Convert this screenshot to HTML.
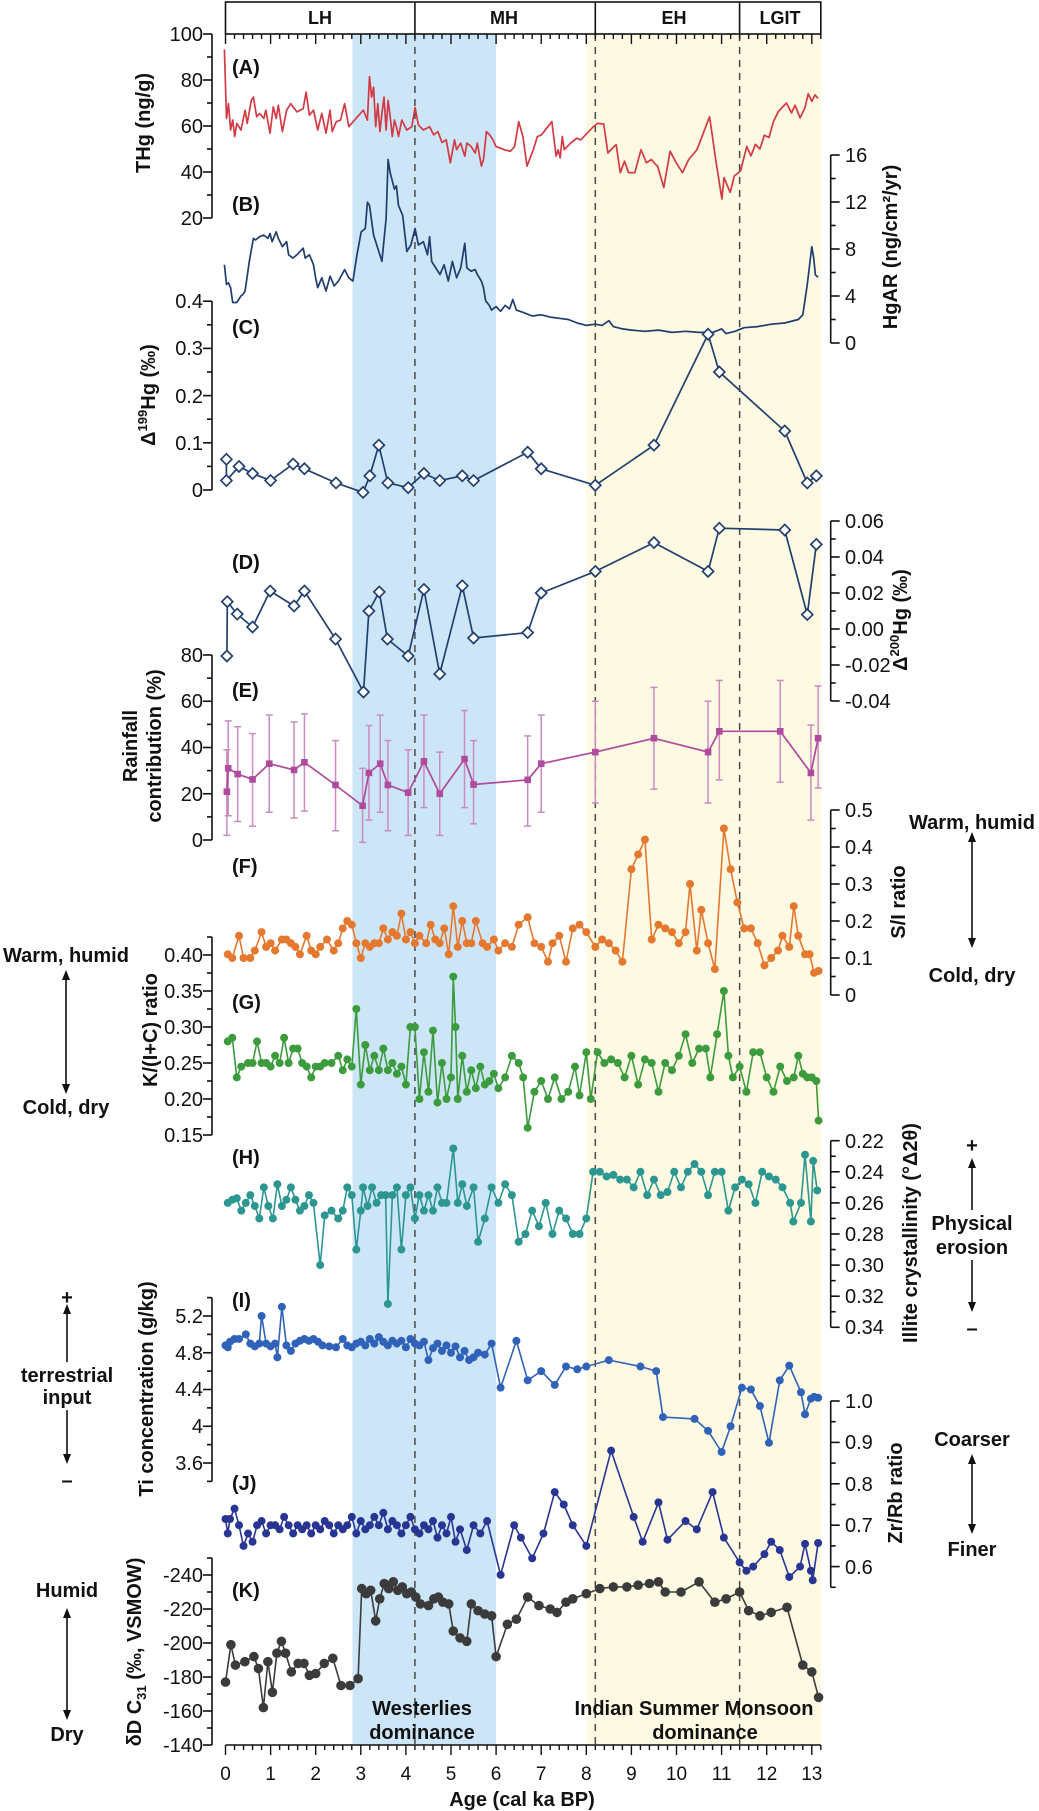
<!DOCTYPE html>
<html><head><meta charset="utf-8"><title>Holocene records</title>
<style>
html,body{margin:0;padding:0;background:#fff;width:1039px;height:1811px;overflow:hidden}
svg{display:block}
text{font-family:"Liberation Sans",Arial,sans-serif;fill:#111}
.tl{font-size:20px;text-anchor:end}
.tr{font-size:20px;text-anchor:start}
.bl{font-size:19px;text-anchor:middle}
.pl{font-size:20px;font-weight:bold}
.ti{font-size:20px;font-weight:bold;text-anchor:middle}
.ds{font-size:20px;font-weight:bold;text-anchor:middle}
.hd{font-size:18px;font-weight:bold;text-anchor:middle}
</style></head><body>
<svg id="s" width="1039" height="1811" viewBox="0 0 1039 1811" xmlns="http://www.w3.org/2000/svg">
<rect width="1039" height="1811" fill="#fff"/>
<rect x="352.5" y="34" width="143.6" height="1711" fill="#cde6f7"/>
<rect x="586.3" y="34" width="234.5" height="1711" fill="#fdf9e2"/>
<g id="dyn"></g>

<!-- header frame -->
<rect x="225.5" y="2" width="595.3" height="32" fill="none" stroke="#111" stroke-width="1.6"/>
<line x1="414.9" y1="2" x2="414.9" y2="34" stroke="#111" stroke-width="1.6"/>
<line x1="595.3" y1="2" x2="595.3" y2="34" stroke="#111" stroke-width="1.6"/>
<line x1="739.6" y1="2" x2="739.6" y2="34" stroke="#111" stroke-width="1.6"/>
<text class="hd" x="320" y="24">LH</text>
<text class="hd" x="504" y="24">MH</text>
<text class="hd" x="674" y="24">EH</text>
<text class="hd" x="780" y="24">LGIT</text>

<!-- panel labels -->
<text class="pl" x="232" y="74">(A)</text>
<text class="pl" x="232" y="211">(B)</text>
<text class="pl" x="232" y="334">(C)</text>
<text class="pl" x="232" y="569">(D)</text>
<text class="pl" x="232" y="697">(E)</text>
<text class="pl" x="232" y="873">(F)</text>
<text class="pl" x="232" y="1009">(G)</text>
<text class="pl" x="232" y="1164">(H)</text>
<text class="pl" x="232" y="1307">(I)</text>
<text class="pl" x="232" y="1490">(J)</text>
<text class="pl" x="232" y="1597">(K)</text>

<!-- left tick labels -->
<text class="tl" x="203" y="41">100</text><text class="tl" x="203" y="87">80</text><text class="tl" x="203" y="133">60</text><text class="tl" x="203" y="179">40</text><text class="tl" x="203" y="225">20</text>
<text class="tl" x="203" y="308">0.4</text><text class="tl" x="203" y="355">0.3</text><text class="tl" x="203" y="403">0.2</text><text class="tl" x="203" y="450">0.1</text><text class="tl" x="203" y="497">0</text>
<text class="tl" x="203" y="662">80</text><text class="tl" x="203" y="708">60</text><text class="tl" x="203" y="754">40</text><text class="tl" x="203" y="801">20</text><text class="tl" x="203" y="847">0</text>
<text class="tl" x="203" y="962">0.40</text><text class="tl" x="203" y="998">0.35</text><text class="tl" x="203" y="1034">0.30</text><text class="tl" x="203" y="1070">0.25</text><text class="tl" x="203" y="1106">0.20</text><text class="tl" x="203" y="1142">0.15</text>
<text class="tl" x="203" y="1323">5.2</text><text class="tl" x="203" y="1360">4.8</text><text class="tl" x="203" y="1396">4.4</text><text class="tl" x="203" y="1433">4</text><text class="tl" x="203" y="1470">3.6</text>
<text class="tl" x="203" y="1582">-240</text><text class="tl" x="203" y="1616">-220</text><text class="tl" x="203" y="1650">-200</text><text class="tl" x="203" y="1684">-180</text><text class="tl" x="203" y="1718">-160</text><text class="tl" x="203" y="1752">-140</text>

<!-- right tick labels -->
<text class="tr" x="845" y="162">16</text><text class="tr" x="845" y="209">12</text><text class="tr" x="845" y="256">8</text><text class="tr" x="845" y="303">4</text><text class="tr" x="845" y="350">0</text>
<text class="tr" x="845" y="528">0.06</text><text class="tr" x="845" y="564">0.04</text><text class="tr" x="845" y="600">0.02</text><text class="tr" x="845" y="636">0.00</text><text class="tr" x="845" y="672">-0.02</text><text class="tr" x="845" y="708">-0.04</text>
<text class="tr" x="845" y="817">0.5</text><text class="tr" x="845" y="854">0.4</text><text class="tr" x="845" y="891">0.3</text><text class="tr" x="845" y="928">0.2</text><text class="tr" x="845" y="965">0.1</text><text class="tr" x="845" y="1002">0</text>
<text class="tr" x="845" y="1148">0.22</text><text class="tr" x="845" y="1179">0.24</text><text class="tr" x="845" y="1210">0.26</text><text class="tr" x="845" y="1241">0.28</text><text class="tr" x="845" y="1272">0.30</text><text class="tr" x="845" y="1303">0.32</text><text class="tr" x="845" y="1334">0.34</text>
<text class="tr" x="845" y="1408">1.0</text><text class="tr" x="845" y="1449">0.9</text><text class="tr" x="845" y="1491">0.8</text><text class="tr" x="845" y="1532">0.7</text><text class="tr" x="845" y="1574">0.6</text>

<!-- bottom tick labels -->
<text class="bl" x="225.5" y="1780">0</text><text class="bl" x="270.6" y="1780">1</text><text class="bl" x="315.7" y="1780">2</text><text class="bl" x="360.8" y="1780">3</text><text class="bl" x="405.9" y="1780">4</text><text class="bl" x="451" y="1780">5</text><text class="bl" x="496.1" y="1780">6</text><text class="bl" x="541.2" y="1780">7</text><text class="bl" x="586.3" y="1780">8</text><text class="bl" x="631.4" y="1780">9</text><text class="bl" x="676.5" y="1780">10</text><text class="bl" x="721.6" y="1780">11</text><text class="bl" x="766.7" y="1780">12</text><text class="bl" x="811.8" y="1780">13</text>
<text class="ti" x="522" y="1806">Age (cal ka BP)</text>

<!-- left titles -->
<text class="ti" transform="translate(150,123) rotate(-90)">THg (ng/g)</text>
<text class="ti" transform="translate(155,395) rotate(-90)">Δ<tspan font-size="13" dy="-8">199</tspan><tspan dy="8">Hg (‰)</tspan></text>
<text class="ti" transform="translate(137,746) rotate(-90)">Rainfall</text>
<text class="ti" transform="translate(161,746) rotate(-90)">contribution (%)</text>
<text class="ti" transform="translate(157,1030) rotate(-90)">K/(I+C) ratio</text>
<text class="ti" transform="translate(153,1389) rotate(-90)">Ti concentration (g/kg)</text>
<text class="ti" transform="translate(141,1652) rotate(-90)">δD C<tspan font-size="13" dy="5">31</tspan><tspan dy="-5"> (‰, VSMOW)</tspan></text>

<!-- right titles -->
<text class="ti" transform="translate(897,247) rotate(-90)">HgAR (ng/cm²/yr)</text>
<text class="ti" transform="translate(907,620) rotate(-90)">Δ<tspan font-size="13" dy="-8">200</tspan><tspan dy="8">Hg (‰)</tspan></text>
<text class="ti" transform="translate(905,902) rotate(-90)">S/I ratio</text>
<text class="ti" transform="translate(917,1233) rotate(-90)">Illite crystallinity (°Δ2θ)</text>
<text class="ti" transform="translate(902,1493) rotate(-90)">Zr/Rb ratio</text>

<!-- descriptors left -->
<text class="ds" x="66" y="962">Warm, humid</text>
<text class="ds" x="66" y="1114">Cold, dry</text>
<text class="ds" x="67" y="1304">+</text>
<text class="ds" x="67" y="1382">terrestrial</text>
<text class="ds" x="67" y="1404">input</text>
<text class="ds" x="67" y="1487">–</text>
<text class="ds" x="67" y="1597">Humid</text>
<text class="ds" x="67" y="1741">Dry</text>
<!-- descriptors right -->
<text class="ds" x="972" y="829">Warm, humid</text>
<text class="ds" x="972" y="982">Cold, dry</text>
<text class="ds" x="972" y="1152">+</text>
<text class="ds" x="972" y="1230">Physical</text>
<text class="ds" x="972" y="1254">erosion</text>
<text class="ds" x="972" y="1335">–</text>
<text class="ds" x="972" y="1446">Coarser</text>
<text class="ds" x="972" y="1556">Finer</text>

<!-- band labels -->
<text class="ds" x="422" y="1715">Westerlies</text>
<text class="ds" x="422" y="1739">dominance</text>
<text class="ds" x="694" y="1715">Indian Summer Monsoon</text>
<text class="ds" x="705" y="1739">dominance</text>

<!-- arrows -->
<g stroke="#111" stroke-width="1.6" fill="#111">
<line x1="66" y1="974" x2="66" y2="1090"/>
<polygon points="66,970 62,980 70,980" stroke="none"/><polygon points="66,1094 62,1084 70,1084" stroke="none"/>
<line x1="67" y1="1308" x2="67" y2="1362"/><polygon points="67,1304 63,1314 71,1314" stroke="none"/>
<line x1="67" y1="1410" x2="67" y2="1460"/><polygon points="67,1464 63,1454 71,1454" stroke="none"/>
<line x1="67" y1="1612" x2="67" y2="1716"/>
<polygon points="67,1608 63,1618 71,1618" stroke="none"/><polygon points="67,1720 63,1710 71,1710" stroke="none"/>
<line x1="972" y1="836" x2="972" y2="944"/>
<polygon points="972,832 968,842 976,842" stroke="none"/><polygon points="972,948 968,938 976,938" stroke="none"/>
<line x1="972" y1="1162" x2="972" y2="1210"/><polygon points="972,1158 968,1168 976,1168" stroke="none"/>
<line x1="972" y1="1260" x2="972" y2="1308"/><polygon points="972,1312 968,1302 976,1302" stroke="none"/>
<line x1="972" y1="1458" x2="972" y2="1530"/>
<polygon points="972,1454 968,1464 976,1464" stroke="none"/><polygon points="972,1534 968,1524 976,1524" stroke="none"/>
</g>
</svg>
<script>
(function(){
var NS="http://www.w3.org/2000/svg";
var g=document.getElementById('dyn');
function el(tag,a){var e=document.createElementNS(NS,tag);for(var k in a)e.setAttribute(k,a[k]);g.appendChild(e);return e;}
function X(a){return 225.5+45.1*a;}
var fA=function(v){return 34+(100-v)*2.3;};
var fB=function(v){return 343-11.75*v;};
var fC=function(v){return 490-472*v;};
var fD=function(v){return 521+(0.06-v)*1800;};
var fE=function(v){return 840-2.3125*v;};
var fF=function(v){return 995-370*v;};
var fG=function(v){return 1135-(v-0.15)*720;};
var fH=function(v){return 1140.7+(v-0.22)*1555;};
var fI=function(v){return 1316+(5.2-v)*91.875;};
var fJ=function(v){return 1401+(1-v)*414;};
var fK=function(v){return 1745+(v+140)*1.7;};

[4.2,8.2,11.4].forEach(function(a){el('line',{x1:X(a),x2:X(a),y1:34,y2:1745,stroke:'#4a4a4a','stroke-width':1.5,'stroke-dasharray':'7,6'});});

el('line',{x1:X(0),x2:X(13.2),y1:1745,y2:1745,stroke:'#111','stroke-width':1.6});
for(var i=0;i<=66;i++){var a=i*0.2,maj=(i%5===0),L=maj?10:5;
 el('line',{x1:X(a),x2:X(a),y1:34,y2:34+L,stroke:'#111','stroke-width':1.4});
 el('line',{x1:X(a),x2:X(a),y1:1745,y2:1745+L,stroke:'#111','stroke-width':1.4});}

function vaxis(x,f,vmin,vmax,step,majStep,dir){
 el('line',{x1:x,x2:x,y1:f(vmin),y2:f(vmax),stroke:'#111','stroke-width':1.6});
 var n=Math.round((vmax-vmin)/step);
 for(var i=0;i<=n;i++){var v=vmin+i*step;var r=v/majStep;var maj=Math.abs(r-Math.round(r))<1e-6;
  var y=f(v);el('line',{x1:x,x2:x+dir*(maj?9:5),y1:y,y2:y,stroke:'#111','stroke-width':1.6});}
}
vaxis(212,fA,20,100,10,20,-1);
vaxis(830.7,fB,0,16,2,4,1);
vaxis(212,fC,0,0.4,0.05,0.1,-1);
vaxis(830.7,fD,-0.04,0.06,0.01,0.02,1);
vaxis(212,fE,0,80,10,20,-1);
vaxis(830.7,fF,0,0.5,0.05,0.1,1);
vaxis(212,fG,0.15,0.425,0.025,0.05,-1);
vaxis(830.7,fH,0.22,0.34,0.01,0.02,1);
vaxis(212,fI,3.4,5.4,0.2,0.4,-1);
vaxis(830.7,fJ,0.55,1.0,0.05,0.1,1);
vaxis(212,fK,-250,-140,10,20,-1);

function poly(pts,color,w){el('polyline',{points:pts.map(function(p){return p[0].toFixed(1)+','+p[1].toFixed(1);}).join(' '),fill:'none',stroke:color,'stroke-width':w,'stroke-linejoin':'round'});}
function dots(pts,color,r){pts.forEach(function(p){el('circle',{cx:p[0],cy:p[1],r:r,fill:color});});}
function av(list,f){return list.map(function(d){return [X(d[0]),f(d[1])];});}
function zm(list){return list.map(function(d){return [100+d[0]/2.412,34+(d[1]-88)*0.3286];});}

var Az=[[300,135],[305,345],[310,300],[315,380],[320,350],[325,400],[330,360],[340,380],[350,320],[355,360],[365,290],[370,280],[378,340],[385,330],[395,345],[400,320],[410,390],[418,310],[425,345],[430,305],[440,385],[450,320],[460,300],[475,325],[490,315],[497,265],[505,335],[515,320],[525,380],[535,330],[545,390],[555,320],[560,385],[570,355],[580,350],[590,300],[600,370],[635,320],[645,350],[650,218],[655,280],[660,250],[665,370],[670,300],[675,385],[680,330],[685,280],[690,380],[695,290],[700,340],[705,400],[710,350],[715,370],[720,400],[728,350],[740,380],[752,370],[760,312],[768,365],[780,380],[795,370],[805,395],[815,385],[825,418],[835,410],[845,480],[855,410],[860,440],[870,420],[880,460],[885,420],[895,430],[905,450],[910,420],[920,490],[925,470],[932,385],[940,395],[948,410],[955,430],[975,440],[990,445],[1000,430],[1010,355],[1020,400],[1030,490],[1045,440],[1055,400],[1065,395],[1080,370],[1090,355],[1100,460],[1105,440],[1110,465],[1115,400],[1120,440],[1135,420],[1150,405],[1160,410],[1175,390],[1190,370],[1200,360],[1215,362],[1225,450],[1240,430],[1245,425],[1255,510],[1265,475],[1275,510],[1290,510],[1305,440],[1318,480],[1330,470],[1340,485],[1345,490],[1360,555],[1375,445],[1390,480],[1405,510],[1420,470],[1440,440],[1470,340],[1475,380],[1485,470],[1500,590],[1505,525],[1520,570],[1530,520],[1545,505],[1560,430]];
var Aav=[[11.65,47],[11.75,52],[11.85,50],[11.95,56],[12.05,55],[12.15,62],[12.25,66],[12.29,67],[12.44,70],[12.55,65.7],[12.63,69],[12.74,63.5],[12.85,68],[12.92,74],[13.0,70.7],[13.07,73.5],[13.14,72]];
poly(zm(Az).concat(av(Aav,fA)),'#d23a44',1.7);

var Bz=[[300,790],[305,850],[310,845],[315,860],[320,905],[330,905],[340,885],[345,880],[350,870],[360,780],[370,710],[375,715],[385,705],[395,700],[405,710],[410,695],[415,720],[425,690],[430,710],[440,735],[450,720],[455,760],[465,770],[475,760],[490,740],[495,770],[505,760],[515,790],[520,830],[525,860],[535,830],[545,870],[555,825],[565,855],[575,840],[590,805],[600,830],[610,840],[620,760],[630,690],[640,680],[645,600],[650,610],[660,700],[670,740],[680,780],[690,650],[695,470],[700,510],[710,560],[715,550],[720,610],[730,640],[740,750],[750,730],[760,680],[768,730],[780,720],[790,760],[795,705],[800,780],[810,800],[820,820],[830,790],[840,840],[850,780],[860,830],[870,800],[880,725],[885,800],[895,810],[905,805],[910,820],[920,840],[925,860],[930,900]];
var Bav=[[5.85,3.2],[5.9,2.8],[6.0,3.1],[6.1,2.7],[6.2,3.2],[6.3,2.9],[6.37,3.7],[6.45,2.8],[6.6,2.6],[6.8,2.3],[7.0,2.4],[7.2,2.2],[7.4,2.1],[7.6,2.0],[7.8,1.7],[7.9,1.6],[8.0,1.5],[8.2,1.6],[8.35,1.5],[8.5,1.9],[8.6,1.4],[8.8,1.2],[9.0,1.1],[9.3,1.0],[9.6,1.1],[9.9,0.9],[10.2,1.0],[10.5,0.9],[10.8,0.9],[11.0,1.2],[11.1,0.8],[11.3,1.0],[11.5,1.3],[11.8,1.4],[12.1,1.6],[12.4,1.7],[12.7,2.0],[12.8,2.4],[12.9,5.0],[13.0,8.2],[13.04,7.3],[13.08,5.8],[13.14,5.6]];
poly(zm(Bz).concat(av(Bav,fB)),'#1f3d6e',1.7);

function diamonds(pts,color){pts.forEach(function(p){var s=5.5;el('path',{d:'M'+p[0]+','+(p[1]-s)+' L'+(p[0]+s)+','+p[1]+' L'+p[0]+','+(p[1]+s)+' L'+(p[0]-s)+','+p[1]+' Z',fill:'#fff',stroke:color,'stroke-width':1.7});});}
var Cd=[[0.02,0.065],[0.02,0.02],[0.3,0.05],[0.6,0.035],[1.0,0.02],[1.5,0.055],[1.75,0.045],[2.45,0.015],[3.05,-0.005],[3.2,0.03],[3.4,0.095],[3.6,0.015],[4.05,0.005],[4.4,0.035],[4.75,0.02],[5.25,0.03],[5.5,0.02],[6.7,0.08],[7.0,0.045],[8.2,0.01],[9.5,0.095],[10.7,0.33],[10.95,0.25],[12.4,0.125],[12.9,0.015],[13.1,0.03]];
var Cp=av(Cd,fC);poly(Cp,'#22406f',1.7);diamonds(Cp,'#22406f');
var Dd=[[0.03,-0.015],[0.04,0.0152],[0.26,0.0083],[0.6,0.0011],[0.99,0.0211],[1.52,0.0128],[1.75,0.0211],[2.44,-0.0056],[3.06,-0.035],[3.18,0.01],[3.41,0.0206],[3.59,-0.0056],[4.05,-0.015],[4.4,0.022],[4.75,-0.025],[5.25,0.024],[5.5,-0.005],[6.7,-0.002],[7.0,0.02],[8.2,0.032],[9.5,0.048],[10.7,0.032],[10.95,0.056],[12.4,0.055],[12.9,0.008],[13.1,0.047]];
var Dp=av(Dd,fD);poly(Dp,'#22406f',1.7);diamonds(Dp,'#22406f');
var Ed=[[0.03,20.9,2,39],[0.06,31,10.5,51.5],[0.27,28.5,8,49],[0.6,26.2,6,46],[0.97,33,12,54],[1.52,30.3,9.5,51],[1.75,33.6,12.5,54.5],[2.44,23.8,4,43],[3.04,14.8,-1,31],[3.18,29,8.6,49.5],[3.43,33,12,54],[3.6,23.8,4,43],[4.05,20.5,2,39],[4.4,34,14,54],[4.75,20,2,38],[5.3,35,14,56],[5.5,24,7,43],[6.7,26,6,45],[7.0,33,12,54],[8.2,38,16,60],[9.5,44,22,66],[10.7,38,16,60],[10.95,47,26,69],[12.3,47,25,69],[12.98,29,8.6,49.7],[13.14,44,22.5,66.6]];
Ed.forEach(function(d){var x=X(d[0]);el('line',{x1:x,x2:x,y1:fE(d[2]),y2:fE(d[3]),stroke:'#c98bc0','stroke-width':1.5});
 [d[2],d[3]].forEach(function(v){el('line',{x1:x-3.5,x2:x+3.5,y1:fE(v),y2:fE(v),stroke:'#c98bc0','stroke-width':1.5});});});
var Ep=av(Ed,fE);poly(Ep,'#b04a9c',1.7);
Ep.forEach(function(p){el('rect',{x:p[0]-3.3,y:p[1]-3.3,width:6.6,height:6.6,fill:'#b04a9c'});});
var Fd=[[0.05,0.11],[0.15,0.10],[0.3,0.16],[0.4,0.10],[0.55,0.10],[0.65,0.12],[0.8,0.17],[0.9,0.13],[1.0,0.14],[1.1,0.12],[1.25,0.15],[1.35,0.15],[1.45,0.14],[1.55,0.13],[1.65,0.11],[1.8,0.16],[1.9,0.12],[2.0,0.11],[2.1,0.13],[2.25,0.15],[2.4,0.12],[2.5,0.14],[2.6,0.18],[2.7,0.20],[2.8,0.19],[2.9,0.14],[3.0,0.10],[3.1,0.14],[3.2,0.13],[3.3,0.14],[3.4,0.14],[3.5,0.18],[3.6,0.15],[3.7,0.17],[3.8,0.16],[3.9,0.22],[4.0,0.15],[4.1,0.17],[4.2,0.14],[4.3,0.16],[4.45,0.14],[4.55,0.19],[4.65,0.15],[4.75,0.14],[4.85,0.18],[4.95,0.11],[5.05,0.24],[5.15,0.13],[5.25,0.20],[5.35,0.14],[5.45,0.14],[5.55,0.20],[5.7,0.14],[5.8,0.13],[5.95,0.15],[6.05,0.12],[6.2,0.14],[6.35,0.13],[6.5,0.19],[6.7,0.21],[6.85,0.14],[7.0,0.13],[7.15,0.09],[7.25,0.14],[7.4,0.16],[7.55,0.09],[7.7,0.18],[7.85,0.19],[8.0,0.17],[8.2,0.13],[8.35,0.15],[8.5,0.14],[8.65,0.12],[8.8,0.09],[9.0,0.34],[9.15,0.38],[9.3,0.42],[9.45,0.15],[9.6,0.19],[9.75,0.18],[9.9,0.17],[10.05,0.14],[10.2,0.17],[10.3,0.30],[10.45,0.12],[10.55,0.23],[10.7,0.14],[10.85,0.07],[11.05,0.45],[11.2,0.34],[11.35,0.25],[11.5,0.18],[11.65,0.18],[11.8,0.14],[11.95,0.08],[12.1,0.10],[12.25,0.12],[12.35,0.16],[12.5,0.13],[12.6,0.24],[12.7,0.16],[12.85,0.11],[12.95,0.11],[13.05,0.06],[13.15,0.065]];
var Fp=av(Fd,fF);poly(Fp,'#e4782e',1.6);dots(Fp,'#e4782e',4);
var Gd=[[0.05,0.28],[0.15,0.285],[0.25,0.23],[0.35,0.245],[0.5,0.25],[0.6,0.25],[0.7,0.28],[0.8,0.25],[0.9,0.25],[1.0,0.245],[1.1,0.26],[1.2,0.25],[1.3,0.285],[1.4,0.25],[1.5,0.27],[1.6,0.27],[1.7,0.25],[1.8,0.245],[1.9,0.23],[2.0,0.245],[2.1,0.245],[2.2,0.25],[2.35,0.25],[2.5,0.26],[2.6,0.24],[2.7,0.255],[2.8,0.245],[2.9,0.325],[3.0,0.22],[3.1,0.275],[3.2,0.24],[3.3,0.26],[3.4,0.24],[3.5,0.27],[3.6,0.24],[3.7,0.25],[3.8,0.235],[3.9,0.245],[4.0,0.22],[4.1,0.30],[4.2,0.30],[4.3,0.20],[4.4,0.265],[4.5,0.21],[4.6,0.295],[4.7,0.195],[4.8,0.25],[4.9,0.20],[5.0,0.23],[5.05,0.37],[5.1,0.30],[5.15,0.20],[5.25,0.26],[5.35,0.21],[5.45,0.24],[5.55,0.215],[5.65,0.245],[5.75,0.22],[5.85,0.225],[5.95,0.235],[6.05,0.215],[6.2,0.23],[6.35,0.26],[6.5,0.25],[6.6,0.23],[6.7,0.16],[6.85,0.21],[7.0,0.225],[7.15,0.20],[7.3,0.23],[7.45,0.20],[7.6,0.21],[7.75,0.245],[7.85,0.205],[8.0,0.265],[8.1,0.20],[8.25,0.265],[8.4,0.25],[8.55,0.255],[8.7,0.25],[8.85,0.23],[9.0,0.26],[9.15,0.22],[9.3,0.255],[9.45,0.25],[9.6,0.21],[9.75,0.25],[9.9,0.24],[10.05,0.26],[10.2,0.29],[10.35,0.25],[10.5,0.27],[10.65,0.27],[10.75,0.23],[10.9,0.29],[11.05,0.35],[11.15,0.26],[11.25,0.23],[11.4,0.245],[11.55,0.21],[11.7,0.265],[11.85,0.265],[12.0,0.23],[12.15,0.21],[12.3,0.245],[12.45,0.225],[12.6,0.23],[12.7,0.26],[12.8,0.235],[12.9,0.23],[13.0,0.23],[13.1,0.225],[13.15,0.17]];
var Gp=av(Gd,fG);poly(Gp,'#3c9b3c',1.6);dots(Gp,'#3c9b3c',4);
var Hd=[[0.05,0.26],[0.15,0.258],[0.25,0.257],[0.35,0.265],[0.45,0.26],[0.55,0.255],[0.65,0.262],[0.75,0.27],[0.85,0.25],[0.95,0.262],[1.05,0.27],[1.15,0.248],[1.25,0.262],[1.35,0.258],[1.45,0.25],[1.55,0.258],[1.65,0.265],[1.75,0.262],[1.85,0.255],[1.95,0.26],[2.1,0.30],[2.2,0.268],[2.35,0.265],[2.5,0.27],[2.6,0.265],[2.7,0.25],[2.8,0.255],[2.9,0.29],[3.0,0.265],[3.05,0.25],[3.15,0.262],[3.25,0.25],[3.35,0.26],[3.45,0.255],[3.55,0.255],[3.6,0.325],[3.7,0.255],[3.8,0.25],[3.9,0.29],[4.0,0.255],[4.1,0.25],[4.2,0.27],[4.3,0.255],[4.4,0.265],[4.5,0.255],[4.6,0.265],[4.7,0.25],[4.8,0.26],[4.9,0.26],[5.05,0.225],[5.15,0.26],[5.25,0.248],[5.35,0.262],[5.5,0.25],[5.6,0.285],[5.75,0.27],[5.9,0.25],[6.05,0.26],[6.2,0.248],[6.35,0.255],[6.5,0.285],[6.65,0.28],[6.8,0.265],[6.95,0.275],[7.1,0.26],[7.25,0.28],[7.4,0.265],[7.55,0.27],[7.7,0.28],[7.85,0.28],[8.0,0.27],[8.15,0.24],[8.3,0.24],[8.45,0.243],[8.6,0.242],[8.75,0.245],[8.9,0.245],[9.05,0.25],[9.2,0.24],[9.35,0.255],[9.5,0.245],[9.65,0.255],[9.8,0.253],[9.95,0.24],[10.1,0.25],[10.25,0.24],[10.4,0.235],[10.55,0.24],[10.7,0.255],[10.85,0.24],[11.0,0.24],[11.15,0.265],[11.3,0.25],[11.45,0.245],[11.6,0.248],[11.75,0.26],[11.9,0.24],[12.05,0.243],[12.2,0.245],[12.35,0.25],[12.52,0.26],[12.59,0.272],[12.76,0.26],[12.85,0.229],[12.98,0.272],[13.03,0.233],[13.12,0.252]];
var Hp=av(Hd,fH);poly(Hp,'#2c9691',1.6);dots(Hp,'#2c9691',4);
var Id=[[0.0,4.88],[0.05,4.86],[0.1,4.92],[0.2,4.95],[0.3,4.95],[0.45,5.0],[0.55,4.9],[0.65,4.87],[0.75,4.9],[0.8,5.2],[0.9,4.9],[1.0,4.87],[1.1,4.9],[1.15,4.75],[1.25,5.3],[1.35,4.88],[1.45,4.82],[1.55,4.9],[1.65,4.93],[1.75,4.95],[1.85,4.93],[1.95,4.95],[2.05,4.92],[2.15,4.88],[2.3,4.87],[2.45,4.86],[2.6,4.95],[2.7,4.88],[2.8,4.86],[2.9,4.9],[3.0,4.92],[3.1,4.88],[3.2,4.95],[3.3,4.9],[3.4,4.97],[3.5,4.92],[3.6,4.88],[3.7,4.93],[3.8,4.9],[3.9,4.93],[4.0,4.86],[4.1,4.95],[4.2,4.9],[4.3,4.88],[4.4,4.92],[4.5,4.72],[4.6,4.85],[4.7,4.9],[4.8,4.82],[4.9,4.88],[5.0,4.8],[5.1,4.87],[5.2,4.75],[5.3,4.82],[5.4,4.72],[5.5,4.75],[5.6,4.8],[5.75,4.78],[5.9,4.9],[6.1,4.42],[6.45,4.93],[6.7,4.5],[7.0,4.6],[7.3,4.45],[7.55,4.65],[7.8,4.62],[8.0,4.65],[8.5,4.72],[9.2,4.65],[9.55,4.6],[9.7,4.1],[10.4,4.08],[10.7,3.95],[11.0,3.72],[11.2,4.0],[11.45,4.42],[11.65,4.4],[11.85,4.22],[12.05,3.82],[12.29,4.5],[12.5,4.66],[12.76,4.37],[12.85,4.13],[12.98,4.3],[13.05,4.32],[13.14,4.31]];
var Ip=av(Id,fI);poly(Ip,'#2f62b8',1.6);dots(Ip,'#2f62b8',4);
var Jd=[[0.0,0.715],[0.05,0.68],[0.1,0.715],[0.2,0.74],[0.3,0.70],[0.4,0.65],[0.5,0.68],[0.6,0.66],[0.7,0.70],[0.8,0.71],[0.9,0.68],[1.0,0.70],[1.1,0.70],[1.2,0.69],[1.3,0.72],[1.4,0.70],[1.5,0.68],[1.6,0.70],[1.7,0.69],[1.8,0.70],[1.9,0.68],[2.0,0.70],[2.1,0.69],[2.2,0.71],[2.3,0.70],[2.4,0.68],[2.5,0.70],[2.6,0.69],[2.7,0.70],[2.8,0.72],[2.9,0.68],[3.0,0.71],[3.1,0.69],[3.2,0.70],[3.3,0.72],[3.4,0.70],[3.5,0.73],[3.6,0.69],[3.7,0.71],[3.8,0.70],[3.9,0.68],[4.0,0.70],[4.1,0.72],[4.2,0.69],[4.3,0.68],[4.4,0.70],[4.5,0.69],[4.6,0.71],[4.7,0.67],[4.8,0.70],[4.9,0.68],[5.0,0.72],[5.1,0.66],[5.2,0.69],[5.35,0.64],[5.5,0.70],[5.65,0.68],[5.8,0.71],[6.1,0.58],[6.4,0.70],[6.55,0.67],[6.8,0.62],[7.05,0.68],[7.3,0.78],[7.5,0.75],[7.7,0.70],[8.0,0.65],[8.55,0.88],[9.05,0.72],[9.25,0.66],[9.6,0.755],[9.8,0.665],[10.2,0.71],[10.45,0.69],[10.8,0.78],[11.05,0.67],[11.4,0.61],[11.55,0.59],[11.7,0.6],[11.95,0.63],[12.1,0.66],[12.29,0.64],[12.5,0.575],[12.74,0.60],[12.85,0.655],[12.98,0.59],[13.02,0.567],[13.14,0.657]];
var Jp=av(Jd,fJ);poly(Jp,'#283593',1.6);dots(Jp,'#283593',4);
var Kd=[[0.0,-177],[0.12,-199],[0.22,-187],[0.43,-189],[0.63,-192],[0.73,-185],[0.84,-162],[0.94,-189],[1.04,-171],[1.14,-194],[1.24,-201],[1.33,-194],[1.46,-183],[1.61,-188],[1.74,-188],[1.86,-181],[2.0,-182],[2.19,-188],[2.38,-191],[2.56,-175],[2.76,-175],[2.94,-179],[3.02,-232],[3.12,-229],[3.22,-231],[3.33,-213],[3.42,-226],[3.52,-235],[3.62,-232],[3.72,-236],[3.82,-231],[3.92,-233],[4.02,-229],[4.12,-230],[4.22,-227],[4.32,-223],[4.5,-222],[4.62,-226],[4.72,-227],[4.82,-224],[4.95,-223],[5.05,-207],[5.2,-203],[5.35,-201],[5.45,-223],[5.6,-219],[5.75,-217],[5.9,-216],[6.0,-192],[6.25,-211],[6.45,-214],[6.7,-227],[6.95,-222],[7.2,-220],[7.35,-218],[7.55,-224],[7.7,-226],[8.0,-229],[8.3,-232],[8.6,-233],[8.9,-233],[9.15,-234],[9.4,-235],[9.6,-236],[9.75,-230],[10.1,-230],[10.5,-236],[10.85,-224],[11.1,-226],[11.4,-230],[11.6,-219],[11.85,-216],[12.1,-218],[12.45,-221],[12.8,-187],[13.0,-183],[13.15,-168]];
var Kp=av(Kd,fK);poly(Kp,'#3b3b3b',1.6);dots(Kp,'#3b3b3b',4.8);
})();
</script>
</body></html>
